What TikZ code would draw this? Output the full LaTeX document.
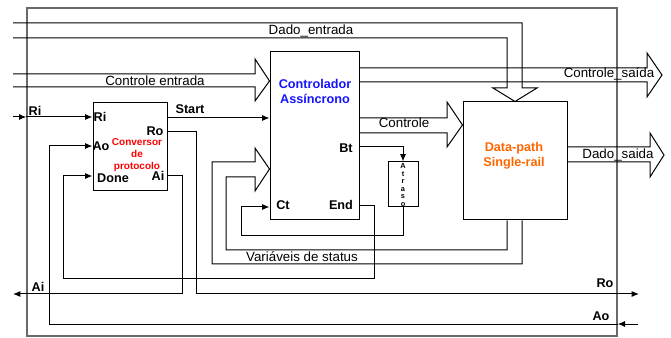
\documentclass[tikz,border=0pt]{standalone}
\usepackage{fontspec}
\setmainfont{Liberation Sans}
\usetikzlibrary{arrows.meta,fit}
\definecolor{ctrlblue}{RGB}{20,20,255}
\definecolor{dporange}{RGB}{255,102,0}
\definecolor{framegray}{RGB}{105,105,105}
\begin{document}
\begin{tikzpicture}[x=0.75pt,y=-0.75pt,line width=0.75pt,
  box/.style={draw,inner sep=0pt},
  bus/.style={font=\fontsize{10}{12}\selectfont,inner sep=0pt},
  port/.style={font=\bfseries\fontsize{9.5}{11}\selectfont,inner sep=0pt},
  sig/.style={-{Latex[length=5.5pt,width=4.5pt]}}]
\useasboundingbox (0,0) rectangle (671,338);
% frame and blocks
\node[draw=framegray,line width=1pt,inner sep=0pt,fit={(27,8)(617,336)}] (outer) {};
\node[box,fit={(270,52)(359,220)}] (ctrl) {};
\node[box,fit={(463,102)(567,220)}] (dp) {};
\node[box,fit={(93,103)(167,191)}] (conv) {};
\node[box,fit={(388,162)(418,207)}] (atr) {};
% block texts
\node[font=\bfseries\fontsize{9.5}{11.25}\selectfont,text=ctrlblue,align=center] (ctrltxt) at (315,91.5) {Controlador\\Assíncrono};
\node[font=\bfseries\fontsize{9.5}{11.25}\selectfont,text=dporange,align=center] (dptxt) at (514,155.5) {Data-path\\Single-rail};
\node[font=\bfseries\fontsize{7.5}{9.2}\selectfont,text=red,align=center] (convtxt) at (137,155) {Conversor\\de\\protocolo};
\node[font=\bfseries\fontsize{5.5}{5.7}\selectfont,align=center,inner sep=0pt] (atrtxt) at (403,185) {A\\t\\r\\a\\s\\o};
% free ends
\coordinate (din1) at (13,23);
\coordinate (din2) at (13,38);
\coordinate (cin1) at (13,74);
\coordinate (cin2) at (13,87);
\coordinate (csout) at (662,75);
\coordinate (dsout) at (664,155);
\coordinate (riin) at (13,117);
\coordinate (roout) at (639,294);
\coordinate (aiout) at (13,294);
\coordinate (aoin) at (638,324);
% buses
\draw (din1) -- (522,23) -- (522,88) -- (537,88) -- (dp.north) -- (493,88) -- (507,88) -- (507,38) -- (din2);
\draw (cin1) -- (255,74) -- (255,59) -- (ctrl.west |- 0,81) -- (255,101) -- (255,87) -- (cin2);
\draw (ctrl.east |- 0,68) -- (647,68) -- (647,53) -- (csout) -- (647,97) -- (647,82) -- (ctrl.east |- 0,82);
\draw (ctrl.east |- 0,118) -- (447,118) -- (447,102) -- (dp.west |- 0,125) -- (447,147) -- (447,133) -- (ctrl.east |- 0,133);
\draw (dp.east |- 0,147) -- (650,147) -- (650,133) -- (dsout) -- (650,177) -- (650,162) -- (dp.east |- 0,162);
\draw (dp.south -| 522,0) -- (522,264) -- (212,264) -- (212,162) -- (255,162) -- (255,148) -- (ctrl.west |- 0,169) -- (255,191) -- (255,177) -- (226,177) -- (226,250) -- (507,250) -- (dp.south -| 507,0);
% signals
\draw[sig] (conv.east |- 0,118) -- (ctrl.west |- 0,118);
\draw[sig] (riin) -- (outer.west |- 0,117);
\draw[sig] (outer.west |- 0,117) -- (conv.west |- 0,117);
\draw[sig] (conv.east |- 0,132) -- (196,132) -- (196,294) -- (roout);
\draw[sig] (conv.east |- 0,176) -- (182,176) -- (182,294) -- (aiout);
\draw[sig] (aoin) -- (outer.east |- 0,324);
\draw[sig] (outer.east |- 0,324) -- (49,324) -- (49,146) -- (conv.west |- 0,146);
\draw[sig] (ctrl.east |- 0,206) -- (374,206) -- (374,279) -- (63,279) -- (63,176) -- (conv.west |- 0,176);
\draw[sig] (ctrl.east |- 0,147) -- (atr.north |- 0,147) -- (atr.north);
\draw[sig] (atr.south) -- (403,236) -- (241,236) -- (241,207) -- (ctrl.west |- 0,207);
% labels
\node[bus] (lde) at (311,31) {Dado\_entrada};
\node[bus] (lce) at (155,81) {Controle entrada};
\node[bus] (lcs) at (609,74) {Controle\_saída};
\node[bus] (lc) at (404,123) {Controle};
\node[bus] (lds) at (618,155) {Dado\_saida};
\node[bus] (lvs) at (302,257) {Variáveis de status};
\node[port] (lri) at (35,111) {Ri};
\node[port] (lri2) at (100,117) {Ri};
\node[port] (lst) at (190,109) {Start};
\node[port] (lro) at (155,131) {Ro};
\node[port] (lao) at (101,146) {Ao};
\node[port] (ldn) at (113,178) {Done};
\node[port] (lai) at (158,176) {Ai};
\node[port] (lbt) at (346,148) {Bt};
\node[port] (lct) at (283,205) {Ct};
\node[port] (len) at (341,205) {End};
\node[port] (lai2) at (38,287) {Ai};
\node[port] (lro2) at (605,283) {Ro};
\node[port] (lao2) at (601,316) {Ao};
\end{tikzpicture}
\end{document}
